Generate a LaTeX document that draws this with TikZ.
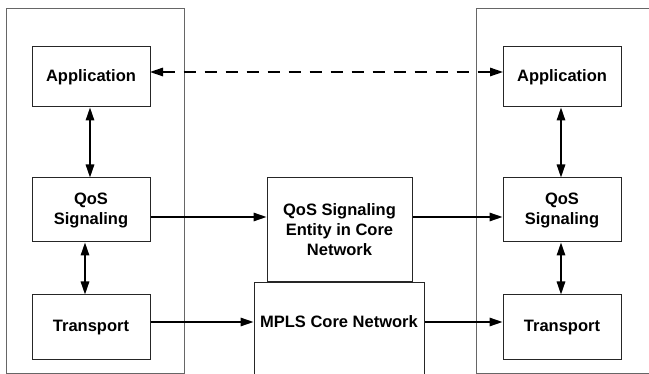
\documentclass[tikz,border=0pt]{standalone}
\usepackage{fontspec}
\setmainfont{Liberation Sans}
\usetikzlibrary{arrows.meta}
\begin{document}
\begin{tikzpicture}[x=1pt,y=-1pt,
  outer/.style={draw=black!60,line width=0.9pt},
  blk/.style={draw=black!85,line width=1pt,fill=white,align=center,font=\bfseries\fontsize{16.5}{20}\selectfont,inner sep=0pt},
  conn/.style={line width=1.4pt,-{Triangle[length=13pt,width=8.5pt]}},
  biconn/.style={line width=1.4pt,{Triangle[length=13pt,width=8.5pt]}-{Triangle[length=13pt,width=8.5pt]}}
]
\useasboundingbox (0,0) rectangle (649,374);
\begin{scope}
\clip (0,0) rectangle (649,374);
\draw[outer] (6,8) rectangle (184,373.5);
\draw[outer] (476,8) rectangle (700,373.5);
\end{scope}
% left column
\node[blk,minimum width=118pt,minimum height=60pt] (la) at (91,77) {Application};
\node[blk,minimum width=118pt,minimum height=64pt] (lq) at (91,210) {QoS\\Signaling};
\node[blk,minimum width=118pt,minimum height=65pt] (lt) at (91,327.5) {Transport};
% right column
\node[blk,minimum width=118pt,minimum height=60pt] (ra) at (562,77) {Application};
\node[blk,minimum width=118pt,minimum height=64pt] (rq) at (562,210) {QoS\\Signaling};
\node[blk,minimum width=118pt,minimum height=65pt] (rt) at (562,327.5) {Transport};
% center
\node[blk,minimum width=145pt,minimum height=104pt] (qe) at (339.5,230) {QoS Signaling\\Entity in Core\\Network};
\begin{scope}
\clip (0,0) rectangle (649,374);
\node[blk,minimum width=170pt,minimum height=92pt,anchor=north] (mp) at (339,282) {};
\end{scope}
\node[font=\bfseries\fontsize{16.5}{20}\selectfont] (mpt) at (339,322) {MPLS Core Network};
% connectors
\coordinate (a1) at (150,72);
\coordinate (a2) at (503,72);
\draw[biconn,dash pattern=on 12pt off 9pt] (a1) -- (a2);
\draw[biconn] (la.south -| 90,0) -- (lq.north -| 90,0);
\draw[biconn] (lq.south -| 85,0) -- (lt.north -| 85,0);
\draw[biconn] (ra.south -| 561,0) -- (rq.north -| 561,0);
\draw[biconn] (rq.south -| 561,0) -- (rt.north -| 561,0);
\draw[conn] (lq.east |- 0,217) -- (qe.west |- 0,217);
\draw[conn] (qe.east |- 0,217) -- (rq.west |- 0,217);
\draw[conn] (lt.east |- 0,322) -- (mp.west |- 0,322);
\draw[conn] (mp.east |- 0,322) -- (rt.west |- 0,322);
\end{tikzpicture}
\end{document}
